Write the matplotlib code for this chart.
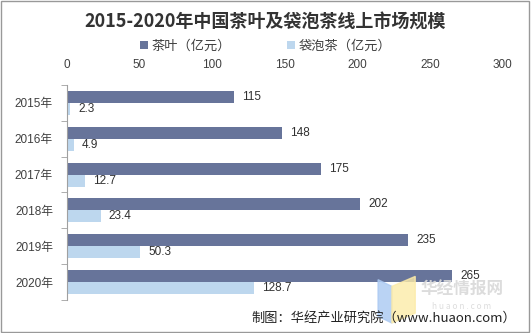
import numpy as np
import matplotlib.pyplot as plt
from matplotlib.patches import Rectangle, Polygon

plt.rcParams['font.family'] = ['Noto Sans CJK SC', 'DejaVu Sans']

years = ['2015年', '2016年', '2017年', '2018年', '2019年', '2020年']
tea = [115, 148, 175, 202, 235, 265]
bag_tea = [2.3, 4.9, 12.7, 23.4, 50.3, 128.7]

dark = '#67749A'
light = '#BDD7EE'
txt = '#404040'
num_font = ['Liberation Sans', 'Noto Sans CJK SC']

fig = plt.figure(figsize=(5.31, 3.33), dpi=100)
ax = fig.add_axes([0.126, 0.099, 0.821, 0.646])

y = np.arange(len(years))
h = 0.335
ax.barh(y - h / 2, tea, height=h, color=dark, label='茶叶（亿元）')
ax.barh(y + h / 2, bag_tea, height=h, color=light, label='袋泡茶（亿元）')

for i in range(len(years)):
    ax.text(tea[i] + 5.5, y[i] - h / 2, str(tea[i]), va='center', ha='left', fontsize=8.5, color='#303030', family=num_font)
    ax.text(bag_tea[i] + 5.5, y[i] + h / 2, str(bag_tea[i]), va='center', ha='left', fontsize=8.5, color='#303030', family=num_font)

ax.set_xlim(0, 300)
ax.set_ylim(len(years) - 0.5, -0.5)
ax.xaxis.tick_top()
ax.set_xticks([0, 50, 100, 150, 200, 250, 300])
ax.tick_params(axis='x', length=0, labelsize=8.5, labelcolor=txt, pad=10)
for t in ax.get_xticklabels():
    t.set_family(num_font)
ax.set_yticks(y)
ax.set_yticklabels(years)
ax.set_yticks(np.arange(len(years) + 1) - 0.5, minor=True)
ax.tick_params(axis='y', which='major', length=0, labelsize=8.5, labelcolor=txt, pad=10)
ax.tick_params(axis='y', which='minor', length=4, color='#A0A0A0', direction='out')
for t in ax.get_yticklabels():
    t.set_family(num_font)
for s in ['top', 'right', 'bottom']:
    ax.spines[s].set_visible(False)
ax.spines['left'].set_color('#A0A0A0')

fig.text(0.5, 0.934, '2015-2020年中国茶叶及袋泡茶线上市场规模', ha='center', va='center',
         fontsize=13, fontweight='bold', color='#333333')
fig.legend(loc='center', bbox_to_anchor=(0.5, 0.862), ncol=2, frameon=False, fontsize=9.5,
           handlelength=0.6, handleheight=0.6, columnspacing=4.2, handletextpad=0.3,
           labelcolor=txt)

# watermark
fig.text(0.87, 0.128, '华经情报网', ha='center', va='center', fontsize=12, fontweight='bold', color='#D9D9D9', alpha=0.9)
fig.text(0.87, 0.081, 'h u a o n . c o m', ha='center', va='center', fontsize=6, color='#DDDDDD')
fig.patches.append(Polygon([(0.712, 0.05), (0.712, 0.16), (0.738, 0.14), (0.738, 0.03)],
                           closed=True, transform=fig.transFigure, color='#A9C8F2', alpha=0.8))
fig.patches.append(Polygon([(0.738, 0.14), (0.738, 0.03), (0.782, 0.06), (0.782, 0.17)],
                           closed=True, transform=fig.transFigure, color='#FCEBA8', alpha=0.8))

fig.text(0.972, 0.043, '制图：华经产业研究院（www.huaon.com）', ha='right', va='center', fontsize=9.5, color='#222222')

fig.patches.append(Rectangle((0.002, 0.003), 0.995, 0.993, transform=fig.transFigure,
                             fill=False, edgecolor='#999999', lw=1))

fig.savefig('out.png', dpi=100)
